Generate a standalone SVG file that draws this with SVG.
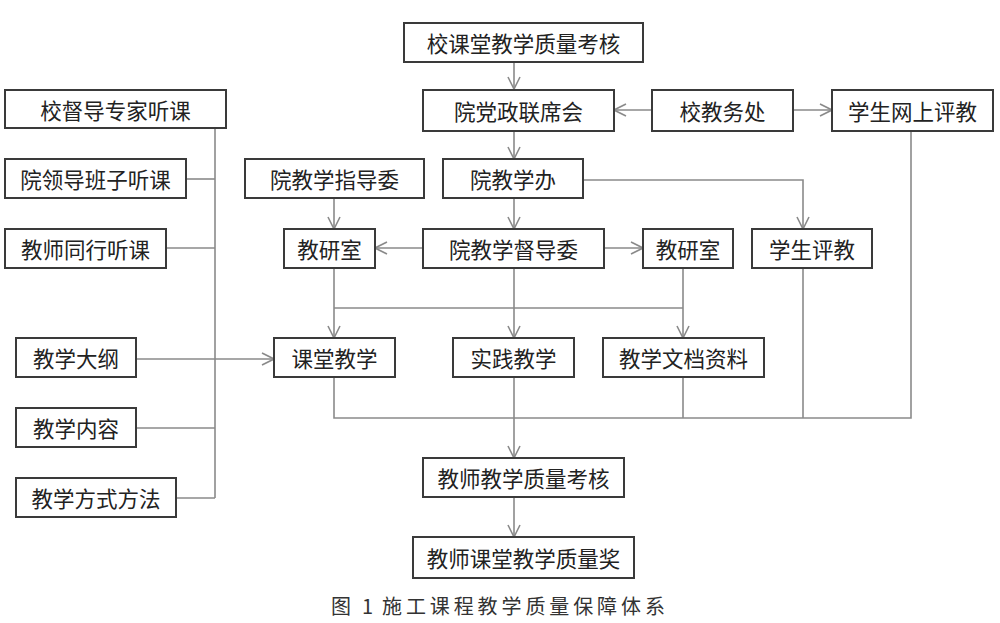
<svg xmlns="http://www.w3.org/2000/svg" width="1000" height="623" viewBox="0 0 1000 623">
<style>
.b{fill:#fff;stroke:#3a3a3a;stroke-width:2}
.t{font-family:"Noto Sans CJK SC","Noto Sans",sans-serif;font-size:21.5px;fill:#222;text-anchor:middle;dominant-baseline:central}
.c{fill:none;stroke:#8a8a8a;stroke-width:1.6}
.cap{font-family:"Noto Sans CJK SC","Liberation Serif",serif;font-size:20px;fill:#333}
</style>
<defs>
<marker id="a" markerUnits="userSpaceOnUse" markerWidth="14" markerHeight="14" viewBox="0 0 14 14" refX="13" refY="7" orient="auto">
<path d="M1,1 L13,7 L1,13" fill="none" stroke="#8a8a8a" stroke-width="1.6"/>
</marker>
</defs>
<rect width="1000" height="623" fill="#fff"/>
<g id="connectors">
<path class="c" d="M514,62 V89" marker-end="url(#a)"/>
<path class="c" d="M514,131 V159" marker-end="url(#a)"/>
<path class="c" d="M514,198 V229" marker-end="url(#a)"/>
<path class="c" d="M652,110 H614" marker-end="url(#a)"/>
<path class="c" d="M793,110 H832" marker-end="url(#a)"/>
<path class="c" d="M583,180 H803 V229" marker-end="url(#a)"/>
<path class="c" d="M334,198 V229" marker-end="url(#a)"/>
<path class="c" d="M423,248 H375" marker-end="url(#a)"/>
<path class="c" d="M604,248 H643" marker-end="url(#a)"/>
<path class="c" d="M334,268 V338" marker-end="url(#a)"/>
<path class="c" d="M514,268 V338" marker-end="url(#a)"/>
<path class="c" d="M683,268 V338" marker-end="url(#a)"/>
<path class="c" d="M334,308 H683"/>
<path class="c" d="M215,128 V498"/>
<path class="c" d="M186,179 H215"/>
<path class="c" d="M166,248 H215"/>
<path class="c" d="M136,428 H215"/>
<path class="c" d="M176,498 H215"/>
<path class="c" d="M136,359 H274" marker-end="url(#a)"/>
<path class="c" d="M334,377 V418 H911 V131"/>
<path class="c" d="M683,377 V418"/>
<path class="c" d="M803,268 V418"/>
<path class="c" d="M514,377 V458" marker-end="url(#a)"/>
<path class="c" d="M514,497 V537" marker-end="url(#a)"/>
</g>
<g id="n1"><rect class="b" x="404" y="23" width="239" height="39"/><text class="t" x="523.5" y="42.5">校课堂教学质量考核</text></g>
<g id="n2"><rect class="b" x="5" y="90" width="221" height="38"/><text class="t" x="115.5" y="109">校督导专家听课</text></g>
<g id="n3"><rect class="b" x="423" y="90" width="191" height="41"/><text class="t" x="518.5" y="110.5">院党政联席会</text></g>
<g id="n4"><rect class="b" x="652" y="90" width="141" height="41"/><text class="t" x="722.5" y="110.5">校教务处</text></g>
<g id="n5"><rect class="b" x="832" y="90" width="161" height="41"/><text class="t" x="912.5" y="110.5">学生网上评教</text></g>
<g id="n6"><rect class="b" x="5" y="159" width="181" height="39"/><text class="t" x="95.5" y="178.5">院领导班子听课</text></g>
<g id="n7"><rect class="b" x="245" y="159" width="179" height="39"/><text class="t" x="334.5" y="178.5">院教学指导委</text></g>
<g id="n8"><rect class="b" x="443" y="159" width="140" height="39"/><text class="t" x="513" y="178.5">院教学办</text></g>
<g id="n9"><rect class="b" x="5" y="229" width="161" height="39"/><text class="t" x="85.5" y="248.5">教师同行听课</text></g>
<g id="n10"><rect class="b" x="284" y="229" width="91" height="39"/><text class="t" x="329.5" y="248.5">教研室</text></g>
<g id="n11"><rect class="b" x="423" y="229" width="181" height="39"/><text class="t" x="513.5" y="248.5">院教学督导委</text></g>
<g id="n12"><rect class="b" x="643" y="229" width="90" height="39"/><text class="t" x="688" y="248.5">教研室</text></g>
<g id="n13"><rect class="b" x="752" y="229" width="120" height="39"/><text class="t" x="812" y="248.5">学生评教</text></g>
<g id="n14"><rect class="b" x="16" y="338" width="120" height="39"/><text class="t" x="76" y="357.5">教学大纲</text></g>
<g id="n15"><rect class="b" x="274" y="338" width="121" height="39"/><text class="t" x="334.5" y="357.5">课堂教学</text></g>
<g id="n16"><rect class="b" x="453" y="338" width="121" height="39"/><text class="t" x="513.5" y="357.5">实践教学</text></g>
<g id="n17"><rect class="b" x="603" y="338" width="161" height="39"/><text class="t" x="683.5" y="357.5">教学文档资料</text></g>
<g id="n18"><rect class="b" x="16" y="408" width="120" height="39"/><text class="t" x="76" y="427.5">教学内容</text></g>
<g id="n19"><rect class="b" x="16" y="478" width="160" height="39"/><text class="t" x="96" y="497.5">教学方式方法</text></g>
<g id="n20"><rect class="b" x="423" y="458" width="201" height="39"/><text class="t" x="523.5" y="477.5">教师教学质量考核</text></g>
<g id="n21"><rect class="b" x="413" y="537" width="221" height="41"/><text class="t" x="523.5" y="557.5">教师课堂教学质量奖</text></g>
<text class="cap" x="331 352 362 372 382 405.9 429.8 453.7 477.6 501.5 525.4 549.3 573.2 597.1 621 644.9" y="614">图 1 施工课程教学质量保障体系</text>
</svg>
